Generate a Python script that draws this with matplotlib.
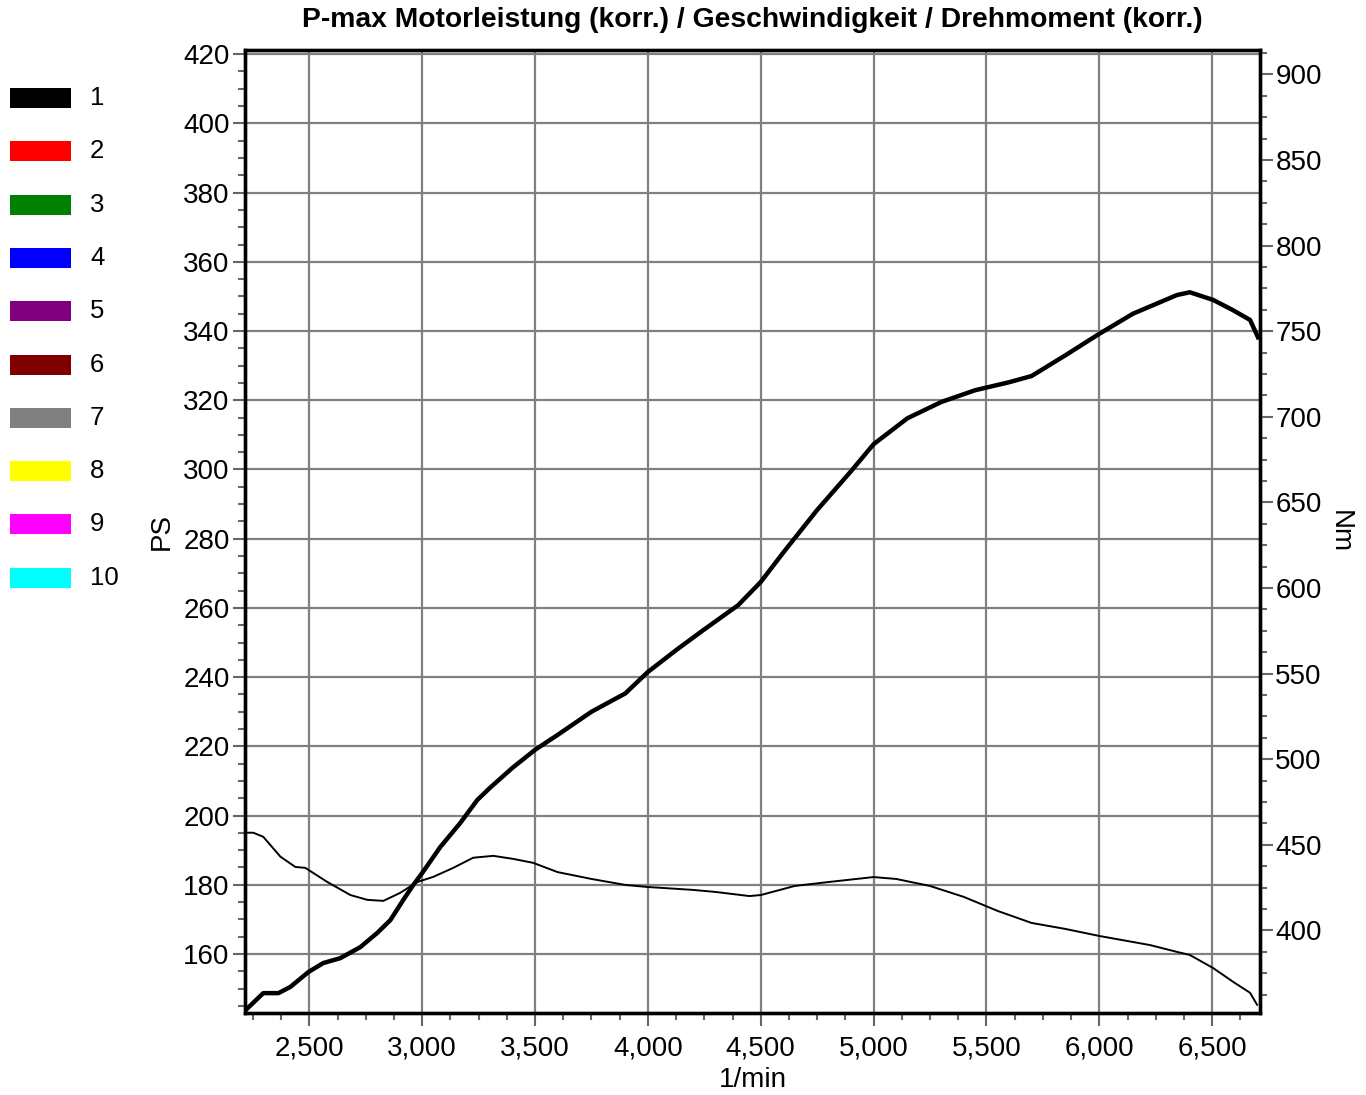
import matplotlib.pyplot as plt
from matplotlib.patches import Rectangle
from matplotlib.ticker import MultipleLocator, FuncFormatter

plt.rcParams['font.family'] = ['Liberation Sans', 'DejaVu Sans']

# Power curve (PS)
power_rpm = [2208, 2296, 2363, 2416, 2496, 2562, 2637, 2726, 2801, 2859, 2916, 2960,
             3000, 3080, 3168, 3244, 3300, 3400, 3500, 3600, 3750, 3900, 4000, 4125, 4250, 4400,
             4500, 4600, 4750, 4900, 5000, 5150, 5300, 5450, 5600, 5700, 5850, 6000,
             6149, 6344, 6401, 6504, 6593, 6668, 6703]
power_ps = [143.2, 148.7, 148.7, 150.5, 154.8, 157.4, 158.8, 162.0, 166.1, 169.8, 175.6, 179.9,
            183.4, 190.9, 197.8, 204.5, 208.0, 213.8, 219.0, 223.3, 230.0, 235.3, 241.5, 247.8, 253.8, 260.8,
            267.5, 276.0, 288.3, 299.5, 307.3, 314.8, 319.5, 322.9, 325.2, 327.0, 333.0, 339.2,
            345.0, 350.4, 351.2, 349.0, 346.0, 343.2, 338.2]

# Torque curve (Nm)
torque_rpm = [2217, 2252, 2296, 2372, 2438, 2482, 2580, 2682, 2757, 2828, 2903, 2978,
              3049, 3138, 3226, 3315, 3404, 3492, 3600, 3750, 3900, 4000, 4200, 4300,
              4450, 4500, 4650, 4800, 5000, 5100, 5250, 5400, 5550, 5700, 5850, 6000,
              6224, 6344, 6401, 6504, 6593, 6668, 6699]
torque_nm = [457.0, 457.0, 454.6, 443.0, 437.0, 436.5, 428.2, 420.6, 417.8, 417.2, 421.9, 428.2,
             431.2, 436.5, 442.4, 443.5, 441.7, 439.4, 434.0, 430.0, 426.5, 425.3, 423.6, 422.4,
             420.0, 420.6, 425.9, 428.2, 431.1, 430.0, 425.9, 419.5, 411.3, 404.3, 400.8, 396.7,
             391.4, 387.4, 385.6, 378.0, 369.9, 363.5, 356.5]

legend_labels = ['1', '2', '3', '4', '5', '6', '7', '8', '9', '10']
legend_colors = ['#000000', '#ff0000', '#008000', '#0000ff', '#800080',
                 '#800000', '#808080', '#ffff00', '#ff00ff', '#00ffff']

fig = plt.figure(figsize=(13.66, 10.95), dpi=100)
ax = fig.add_axes([245 / 1366, 1 - 1013 / 1095, 1015 / 1366, 963 / 1095])
ax2 = ax.twinx()

ax.plot(power_rpm, power_ps, color='black', linewidth=3.2, zorder=3)
ax2.plot(torque_rpm, torque_nm, color='black', linewidth=1.4, zorder=3)

ax.set_xlim(2215, 6712)
ax.set_ylim(142.96, 421.2)
ax2.set_ylim(351.7, 914.2)

ax.xaxis.set_major_locator(MultipleLocator(500))
ax.xaxis.set_minor_locator(MultipleLocator(125))
ax.yaxis.set_major_locator(MultipleLocator(20))
ax.yaxis.set_minor_locator(MultipleLocator(5))
ax2.yaxis.set_major_locator(MultipleLocator(50))
ax2.yaxis.set_minor_locator(MultipleLocator(12.5))
ax.xaxis.set_major_formatter(FuncFormatter(lambda v, p: f'{int(v):,}'))

ax.grid(True, which='major', color='#808080', linewidth=1.6)
ax.set_axisbelow(True)

for a in (ax, ax2):
    a.tick_params(which='major', length=9, width=1.5, color='#666666', labelsize=20, pad=2)
    a.tick_params(which='minor', length=5, width=1.5, color='#666666')
    for s in a.spines.values():
        s.set_linewidth(2.4)
        s.set_color('black')
ax.tick_params(axis='x', which='major', pad=7)

ax.set_xlabel('1/min', fontsize=20, labelpad=4)
ax.set_ylabel('PS', fontsize=20, labelpad=6)
ax2.set_ylabel('Nm', fontsize=20, rotation=-90, labelpad=22)

fig.text(0.5505, 0.982, 'P-max Motorleistung (korr.) / Geschwindigkeit / Drehmoment (korr.)',
         ha='center', va='center', fontsize=20.3, fontweight='bold')

# legend swatches on the left
for i, (lab, col) in enumerate(zip(legend_labels, legend_colors)):
    yc = 98 + i * 53.3
    fig.patches.append(Rectangle((10 / 1366, 1 - (yc + 10) / 1095), 61 / 1366, 20 / 1095,
                                 transform=fig.transFigure, facecolor=col, edgecolor='none'))
    fig.text(90 / 1366, 1 - yc / 1095, lab, ha='left', va='center', fontsize=18.5)

fig.savefig('out.png', dpi=100)
